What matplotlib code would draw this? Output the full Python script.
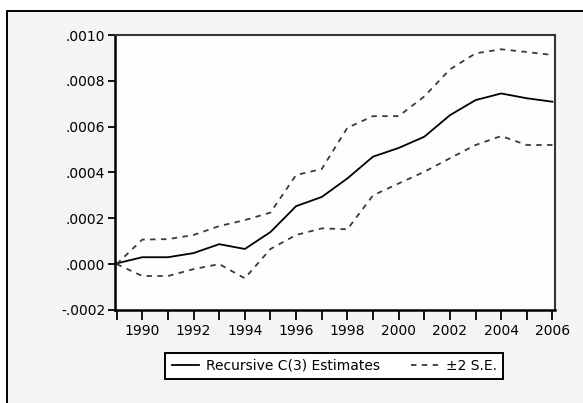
import matplotlib.pyplot as plt
import matplotlib.patches as patches
from matplotlib.ticker import FuncFormatter, MultipleLocator

plt.rcParams["font.family"] = ["DejaVu Sans"]

# --- DATA ---
years = [1989, 1990, 1991, 1992, 1993, 1994, 1995, 1996, 1997,
         1998, 1999, 2000, 2001, 2002, 2003, 2004, 2005, 2006]

# recursive estimate of C(3)
coef = [0.000003, 0.000030, 0.000030, 0.000048, 0.000087, 0.000066,
        0.000140, 0.000253, 0.000293, 0.000374, 0.000469, 0.000507,
        0.000556, 0.000650, 0.000716, 0.000745, 0.000724, 0.000709]

# +/- 2 standard error bands
upper = [0.000000, 0.000107, 0.000109, 0.000127, 0.000166, 0.000192,
         0.000225, 0.000389, 0.000415, 0.000595, 0.000646, 0.000646,
         0.000732, 0.000850, 0.000920, 0.000938, 0.000926, 0.000913]
lower = [0.000000, -0.000052, -0.000052, -0.000022, 0.000000, -0.000062,
         0.000066, 0.000127, 0.000156, 0.000152, 0.000300, 0.000352,
         0.000403, 0.000462, 0.000520, 0.000559, 0.000520, 0.000520]

year_labels = [1990, 1992, 1994, 1996, 1998, 2000, 2002, 2004, 2006]


def eviews_fmt(v, pos):
    s = f"{v:.4f}"
    return s.replace("0.", ".", 1)


# --- PLOT ---
fig = plt.figure(figsize=(5.83, 4.03), dpi=100)
fig.patch.set_facecolor("white")

# grey panel behind the graph
frame = patches.Rectangle((0.012, -0.02), 1.0, 0.993, transform=fig.transFigure,
                          facecolor="#f4f4f4", edgecolor="black", linewidth=1.4,
                          zorder=-10)
fig.add_artist(frame)

ax = fig.add_axes([0.197, 0.231, 0.755, 0.682])
ax.set_zorder(1)
ax.set_facecolor("#fdfdfd")

ax.plot(years, coef, color="black", linewidth=1.3, label="Recursive C(3) Estimates")
ax.plot(years, upper, color="#3a3a3a", linewidth=1.3, linestyle=(0, (3, 3)),
        label="\u00b12 S.E.")
ax.plot(years, lower, color="#3a3a3a", linewidth=1.3, linestyle=(0, (3, 3)))

ax.set_xlim(1988.93, 2006.1)
ax.set_ylim(-0.0002, 0.0010)

ax.set_xticks(years)
ax.set_xticklabels([str(y) if y in year_labels else "" for y in years])
ax.yaxis.set_major_locator(MultipleLocator(0.0002))
ax.yaxis.set_major_formatter(FuncFormatter(eviews_fmt))

ax.tick_params(axis="x", direction="out", length=7, width=1.3, labelsize=10, pad=3)
ax.tick_params(axis="y", direction="out", length=5, width=1.3, labelsize=10, pad=2)

for side in ["left", "bottom"]:
    ax.spines[side].set_linewidth(1.8)
for side in ["top", "right"]:
    ax.spines[side].set_linewidth(1.5)
    ax.spines[side].set_color("#333333")

leg = ax.legend(loc="center", bbox_to_anchor=(0.573, 0.092),
                bbox_transform=fig.transFigure, ncol=2, fontsize=10,
                frameon=True, fancybox=False, handlelength=2.0,
                columnspacing=2.2, borderpad=0.45, handletextpad=0.5)
leg.get_frame().set_edgecolor("black")
leg.get_frame().set_linewidth(1.4)
leg.get_frame().set_facecolor("white")
leg.get_frame().set_alpha(1)

fig.savefig("out.png", dpi=100)
